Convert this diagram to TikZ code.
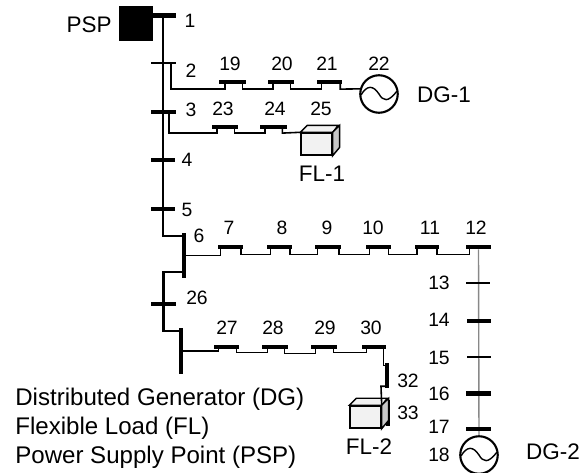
\documentclass[tikz,border=0pt]{standalone}
\usepackage{fontspec}
\setmainfont{Liberation Sans}
\usepackage{xcolor}
\usetikzlibrary{calc}
\definecolor{LoadFront}{RGB}{242,242,242}
\definecolor{LoadSide}{RGB}{200,200,200}
\definecolor{TrunkGray}{RGB}{136,136,136}
\tikzset{
  hbus/.style={rectangle,fill=black,inner sep=0pt,minimum width=0.5cm,minimum height=2.3pt},
  vbus/.style={rectangle,fill=black,inner sep=0pt,minimum width=2.3pt},
  trunk/.style={line width=1.15pt},
  feeder/.style={line width=.9pt},
  gen/.style={circle,draw,line width=1.2pt,inner sep=0pt,minimum size=.75cm},
  loadbox/.style={rectangle,draw,line width=.8pt,fill=LoadFront,inner sep=0pt,minimum width=.62cm,minimum height=.44cm},
  num/.style={font=\fontsize{11}{13}\selectfont,inner sep=0pt},
  tag/.style={font=\fontsize{12.8}{14}\selectfont,inner sep=0pt},
  legend/.style={font=\fontsize{13.7}{15}\selectfont,inner sep=0pt,anchor=west}
}
\newcommand{\sinewave}[1]{%
  \draw[line width=.8pt] ([shift={(-18,1)}]#1.center)
    .. controls ([shift={(-12,-9)}]#1.center) and ([shift={(-6,-9)}]#1.center) .. (#1.center)
    .. controls ([shift={(4,7)}]#1.center) and ([shift={(9,9)}]#1.center) .. ([shift={(18,-3)}]#1.center);
}
\newcommand{\cubefaces}[1]{%
  \draw[line width=.8pt,fill=LoadFront] (#1.north west) -- ++(7,-7) -- ++(31,0) -- (#1.north east) -- cycle;
  \draw[line width=.8pt,fill=LoadSide] (#1.north east) -- ++(7,-7) -- ++(0,22) -- (#1.south east) -- cycle;
}
\begin{document}
\begin{tikzpicture}[x=0.02cm,y=-0.02cm]
  \useasboundingbox (0,0) rectangle (583,473);
  % source and main line
  \node[rectangle,fill=black,inner sep=0pt,minimum size=.69cm] (psp) at (136,23.5) {};
  \node[hbus,minimum width=.46cm] (b1) at (164.5,15.5) {};
  \node[hbus,minimum height=1.2pt] (b2) at (163.5,63) {};
  \node[hbus] (b3) at (163.5,112) {};
  \node[hbus,minimum width=.48cm] (b4) at (163,160) {};
  \node[hbus,minimum width=.48cm] (b5) at (163,209) {};
  \node[vbus,minimum height=.9cm] (b6) at (184,255.5) {};
  \node[hbus,minimum width=.5cm] (b26) at (163.5,304) {};
  \node[vbus,minimum height=.92cm] (b31) at (181,351) {};
  \draw[trunk] (b1 -| b5) -- (b5) |- ([yshift=-2pt]b6.north west);
  \draw[trunk] ([yshift=3.4pt]b6.south west) -| (b26) |- ([yshift=-2pt]b31.north west);
  % first branch
  \node[hbus,minimum width=.54cm,minimum height=2pt] (b19) at (232.5,82) {};
  \node[hbus,minimum width=.52cm,minimum height=2pt] (b20) at (281,82) {};
  \node[hbus,minimum height=2pt] (b21) at (329.5,82) {};
  \node[gen] (dg1) at (379,94) {};
  \sinewave{dg1}
  \draw[trunk] ([xshift=4.3pt]b2.center) -- ++(0,26) -| ([xshift=3.4pt]b19.south west);
  \draw[feeder] ([xshift=-2.2pt]b19.south east) -- ++(0,5) -| ([xshift=3pt]b20.south west);
  \draw[feeder] ([xshift=-2.2pt]b20.south east) -- ++(0,5) -| ([xshift=2.8pt]b21.south west);
  \draw[feeder] ([xshift=-1.2pt]b21.south east) -- ++(0,5) -- (dg1.165);
  % second branch
  \node[hbus,minimum width=.52cm,minimum height=2pt] (b23) at (225,127) {};
  \node[hbus,minimum width=.54cm,minimum height=2pt] (b24) at (273.5,127) {};
  \node[loadbox] (fl1) at (316.5,144) {};
  \cubefaces{fl1}
  \draw[trunk] ([xshift=3.3pt]b3.center) -- ++(0,21) -| ([xshift=2.8pt]b23.south west);
  \draw[feeder] ([xshift=-2.2pt]b23.south east) -- ++(0,4) -| ([xshift=3pt]b24.south west);
  \draw[feeder] ([xshift=-2.8pt]b24.south east) -- ++(0,4) -- (fl1.north west);
  % long row to bus 12
  \node[hbus] (b7) at (230.5,247) {};
  \node[hbus] (b8) at (279.5,247) {};
  \node[hbus,minimum width=.52cm] (b9) at (328,247) {};
  \node[hbus] (b10) at (378.5,247) {};
  \node[hbus,minimum width=.48cm] (b11) at (427,247) {};
  \node[hbus] (b12) at (478.5,247) {};
  \draw[feeder] (b6.east) -| ([xshift=1.7pt]b7.south west);
  \draw[feeder] ([xshift=-1.2pt]b7.south east) -- ++(0,5) -| ([xshift=2.3pt]b8.south west);
  \draw[feeder] ([xshift=-1.2pt]b8.south east) -- ++(0,5) -| ([xshift=1.7pt]b9.south west);
  \draw[feeder] ([xshift=-1.2pt]b9.south east) -- ++(0,5) -| ([xshift=2.3pt]b10.south west);
  \draw[feeder] ([xshift=-1.7pt]b10.south east) -- ++(0,5) -| ([xshift=1.2pt]b11.south west);
  \draw[feeder] ([xshift=-1.2pt]b11.south east) -- ++(0,5) -| ([xshift=2.3pt]b12.south west);
  % right hand column
  \node[gen] (dg2) at (479,455) {};
  \sinewave{dg2}
  \draw[line width=.8pt,color=TrunkGray] (b12) -- (dg2.north);
  \node[hbus,minimum height=1.7pt] (b13) at (478,283) {};
  \node[hbus,minimum width=.48cm] (b14) at (479,321) {};
  \node[hbus,minimum width=.48cm,minimum height=1.2pt] (b15) at (479,357) {};
  \node[hbus] (b16) at (478.5,393.5) {};
  \node[hbus] (b17) at (478.5,429) {};
  % lower row to the second load
  \node[hbus] (b27) at (226.5,347) {};
  \node[hbus,minimum width=.52cm] (b28) at (275,347) {};
  \node[hbus,minimum width=.52cm] (b29) at (324,347) {};
  \node[hbus,minimum width=.48cm] (b30) at (374,347) {};
  \node[vbus,minimum height=.5cm,minimum width=2pt] (b32) at (387,375.5) {};
  \node[vbus,minimum height=.52cm,minimum width=2pt] (b33) at (388,413) {};
  \node[loadbox] (fl2) at (365.5,417) {};
  \cubefaces{fl2}
  \draw[feeder] (b31.east) -| ([xshift=2.8pt]b27.south west);
  \draw[feeder] ([xshift=-1.7pt]b27.south east) -- ++(0,3) -| ([xshift=3.4pt]b28.south west);
  \draw[feeder] ([xshift=-2.3pt]b28.south east) -- ++(0,4) -| ([xshift=2.8pt]b29.south west);
  \draw[feeder] ([xshift=-2.3pt]b29.south east) -- ++(0,3) -| ([xshift=2.8pt]b30.south west);
  \draw[feeder] ([xshift=-1.7pt]b30.south east) -- ++(0,16) -- ++(4,0);
  \draw[feeder] ([yshift=1.2pt]b32.south) -- ++(-6,0) -- (fl2.north east);
  % labels
  \node[tag] (tpsp) at (89,25) {PSP};
  \node[tag] (tdg1) at (444,95) {DG-1};
  \node[tag] (tdg2) at (553,452) {DG-2};
  \node[tag] (tfl1) at (322,174) {FL-1};
  \node[tag] (tfl2) at (369,447) {FL-2};
  \node[num] (n1) at (190,21) {1};
  \node[num] (n2) at (191,71) {2};
  \node[num] (n3) at (191,110) {3};
  \node[num] (n4) at (187,160) {4};
  \node[num] (n5) at (187,210) {5};
  \node[num] (n6) at (199,236) {6};
  \node[num] (n7) at (229,228) {7};
  \node[num] (n8) at (282,228) {8};
  \node[num] (n9) at (327,228) {9};
  \node[num] (n10) at (373,228) {10};
  \node[num] (n11) at (430,228) {11};
  \node[num] (n12) at (476,228) {12};
  \node[num] (n13) at (439,283) {13};
  \node[num] (n14) at (439,320) {14};
  \node[num] (n15) at (439,358) {15};
  \node[num] (n16) at (439,394) {16};
  \node[num] (n17) at (439,427) {17};
  \node[num] (n18) at (439,455) {18};
  \node[num] (n19) at (230,64) {19};
  \node[num] (n20) at (282,64) {20};
  \node[num] (n21) at (327,64) {21};
  \node[num] (n22) at (379,64) {22};
  \node[num] (n23) at (223,109) {23};
  \node[num] (n24) at (275,109) {24};
  \node[num] (n25) at (321,109) {25};
  \node[num] (n26) at (197,298) {26};
  \node[num] (n27) at (227,328) {27};
  \node[num] (n28) at (273,328) {28};
  \node[num] (n29) at (325,328) {29};
  \node[num] (n30) at (371,328) {30};
  \node[num] (n32) at (408,381) {32};
  \node[num] (n33) at (408,413) {33};
  \node[legend] (lg1) at (15,399) {Distributed Generator (DG)};
  \node[legend] (lg2) at (15,428) {Flexible Load (FL)};
  \node[legend] (lg3) at (15,457) {Power Supply Point (PSP)};
\end{tikzpicture}
\end{document}
